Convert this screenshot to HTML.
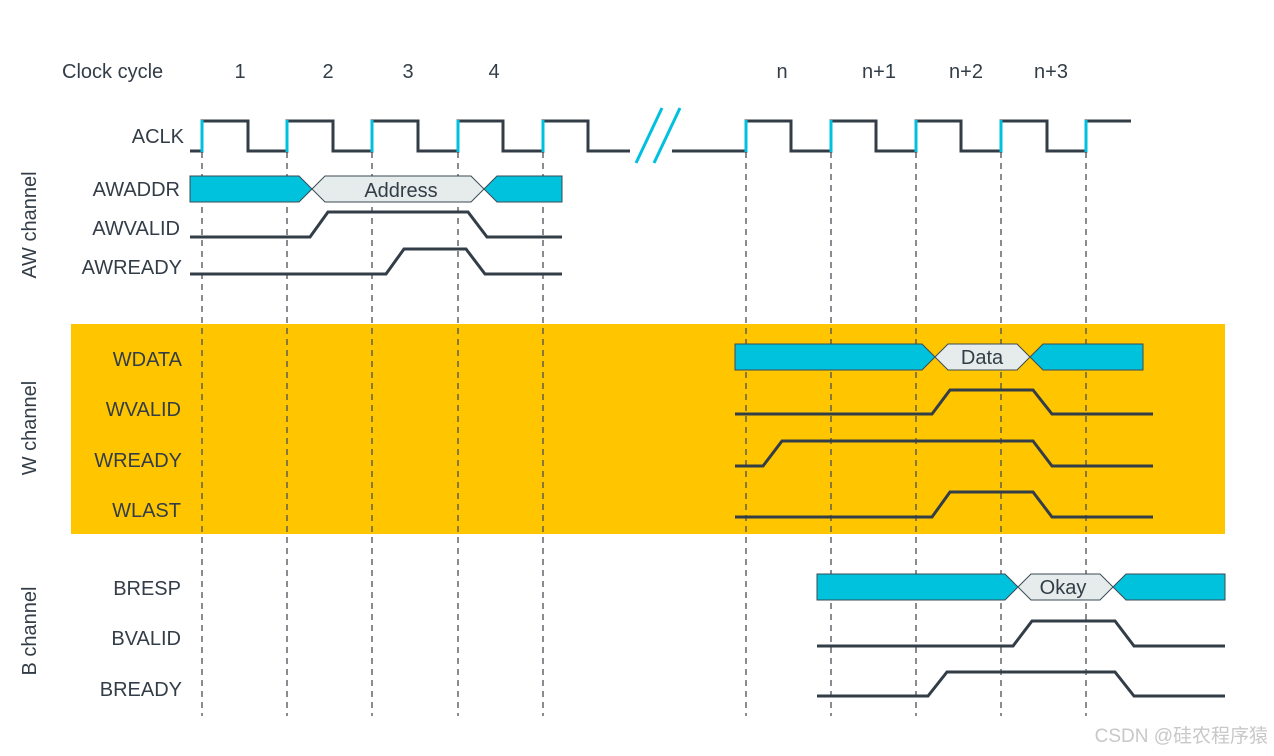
<!DOCTYPE html>
<html><head><meta charset="utf-8"><style>
body{margin:0;background:#fff;}
svg{display:block;}
text{font-family:"Liberation Sans","Noto Sans CJK SC",sans-serif;fill:#333d47;font-size:20px;}
</style></head><body>
<svg width="1274" height="756" viewBox="0 0 1274 756" xmlns="http://www.w3.org/2000/svg">
<rect x="71" y="324" width="1154" height="210" fill="#FFC600"/>
<g stroke="#4a4f55" stroke-width="1.3" stroke-dasharray="6,5">
<line x1="202" y1="152" x2="202" y2="716"/><line x1="287" y1="152" x2="287" y2="716"/><line x1="372" y1="152" x2="372" y2="716"/><line x1="458" y1="152" x2="458" y2="716"/><line x1="543" y1="152" x2="543" y2="716"/>
<line x1="746" y1="152" x2="746" y2="716"/><line x1="831" y1="152" x2="831" y2="716"/><line x1="916" y1="152" x2="916" y2="716"/><line x1="1001" y1="152" x2="1001" y2="716"/><line x1="1086" y1="152" x2="1086" y2="716"/>
</g>
<!-- top labels -->
<text x="62" y="78">Clock cycle</text>
<text x="240" y="78" text-anchor="middle">1</text><text x="328" y="78" text-anchor="middle">2</text><text x="408" y="78" text-anchor="middle">3</text><text x="494" y="78" text-anchor="middle">4</text>
<text x="782" y="78" text-anchor="middle">n</text><text x="879" y="78" text-anchor="middle">n+1</text><text x="966" y="78" text-anchor="middle">n+2</text><text x="1051" y="78" text-anchor="middle">n+3</text>
<!-- signal labels -->
<g text-anchor="end">
<text x="184" y="143">ACLK</text>
<text x="180" y="196">AWADDR</text>
<text x="180" y="235">AWVALID</text>
<text x="182" y="274">AWREADY</text>
<text x="182" y="366">WDATA</text>
<text x="181" y="416">WVALID</text>
<text x="182" y="467">WREADY</text>
<text x="181" y="517">WLAST</text>
<text x="181" y="595">BRESP</text>
<text x="181" y="645">BVALID</text>
<text x="182" y="696">BREADY</text>
</g>
<text transform="translate(36,225) rotate(-90)" text-anchor="middle">AW channel</text>
<text transform="translate(36,428) rotate(-90)" text-anchor="middle">W channel</text>
<text transform="translate(36,631) rotate(-90)" text-anchor="middle">B channel</text>
<!-- clock -->
<g fill="none" stroke="#333d47" stroke-width="3">
<polyline points="190,151 202,151 202,121 248,121 248,151 287,151 287,121 333,121 333,151 372,151 372,121 418,121 418,151 458,151 458,121 503,121 503,151 543,151 543,121 588,121 588,151 630,151"/>
<polyline points="672,151 746,151 746,121 791,121 791,151 831,151 831,121 876,121 876,151 916,151 916,121 961,121 961,151 1001,151 1001,121 1047,121 1047,151 1086,151 1086,121 1131,121"/>
</g>
<g stroke="#00c0e0" stroke-width="3">
<line x1="202" y1="120" x2="202" y2="152"/><line x1="287" y1="120" x2="287" y2="152"/><line x1="372" y1="120" x2="372" y2="152"/><line x1="458" y1="120" x2="458" y2="152"/><line x1="543" y1="120" x2="543" y2="152"/>
<line x1="746" y1="120" x2="746" y2="152"/><line x1="831" y1="120" x2="831" y2="152"/><line x1="916" y1="120" x2="916" y2="152"/><line x1="1001" y1="120" x2="1001" y2="152"/><line x1="1086" y1="120" x2="1086" y2="152"/>
<line x1="662" y1="108" x2="636" y2="163"/><line x1="680" y1="108" x2="654" y2="163"/>
</g>
<!-- buses -->
<g stroke="#3a4a55" stroke-width="1">
<polygon fill="#00c2dd" points="190,176 299,176 312,189 299,202 190,202"/>
<polygon fill="#e6ecec" points="312,189 325,176 471,176 484,189 471,202 325,202"/>
<polygon fill="#00c2dd" points="484,189 497,176 562,176 562,202 497,202"/>
<polygon fill="#00c2dd" points="735,344 922,344 935,357 922,370 735,370"/>
<polygon fill="#e6ecec" points="935,357 948,344 1017,344 1030,357 1017,370 948,370"/>
<polygon fill="#00c2dd" points="1030,357 1043,344 1143,344 1143,370 1043,370"/>
<polygon fill="#00c2dd" points="817,574 1005,574 1018,587 1005,600 817,600"/>
<polygon fill="#e6ecec" points="1018,587 1031,574 1100,574 1113,587 1100,600 1031,600"/>
<polygon fill="#00c2dd" points="1113,587 1126,574 1225,574 1225,600 1126,600"/>
</g>
<text x="401" y="197" text-anchor="middle">Address</text>
<text x="982" y="364" text-anchor="middle">Data</text>
<text x="1063" y="594" text-anchor="middle">Okay</text>
<!-- signals -->
<g fill="none" stroke="#333d47" stroke-width="3">
<polyline points="190,237 310,237 328,212 468,212 487,237 562,237"/>
<polyline points="190,274 386,274 404,249 466,249 485,274 562,274"/>
<polyline points="735,414 932,414 950,390 1033,390 1052,414 1153,414"/>
<polyline points="735,466 763,466 782,441 1033,441 1052,466 1153,466"/>
<polyline points="735,517 932,517 950,492 1033,492 1052,517 1153,517"/>
<polyline points="817,646 1013,646 1032,621 1115,621 1134,646 1225,646"/>
<polyline points="817,696 928,696 947,672 1115,672 1134,696 1225,696"/>
</g>
<text x="1268" y="742" text-anchor="end" style="fill:#c8c8c8;font-size:19px;">CSDN @硅农程序猿</text>
</svg>
</body></html>
